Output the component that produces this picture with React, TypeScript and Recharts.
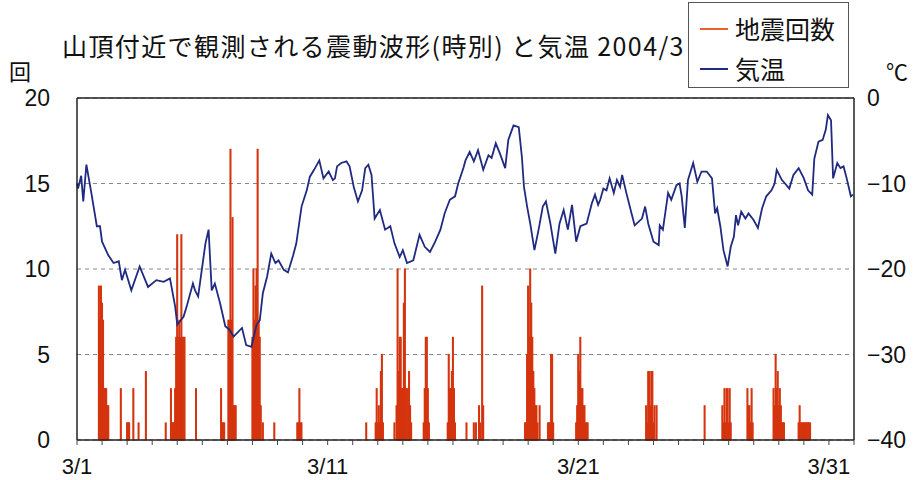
import React from 'react'
import {
  ComposedChart,
  Bar,
  Line,
  XAxis,
  YAxis,
  CartesianGrid,
  ReferenceLine,
} from 'recharts'

// hours since 3/1 00:00 (744 hours in March 2004)
const dayTicks = Array.from({ length: 32 }, (_, d) => d * 24)
const tickLabels: Record<number, string> = { 0: '3/1', 240: '3/11', 480: '3/21', 720: '3/31' }

// earthquake counts per hour (only hours with events)
const quakeHours = [
  21, 22, 23, 24, 25, 26, 27, 28, 29, 30,
  42, 48, 49, 50, 54, 59, 66, 85, 90, 91, 92, 93,
  94, 95, 96, 97, 98, 99, 100, 101, 102, 103,
  114, 138, 139, 140, 141,
  145, 146, 147, 148, 149, 150, 151, 152,
  168, 169, 170, 171, 172, 173, 174, 175, 176, 178, 189,
  211, 212, 213, 214, 215,
  277, 286, 287, 288, 289, 290, 291, 292, 293,
  304, 306, 307, 308, 309, 310, 311, 312, 313, 314, 315, 316, 317, 318, 319, 320,
  332, 333, 334, 335, 336, 337,
  355, 356, 357, 358, 359, 360, 361, 362,
  373, 380, 382, 385, 386, 388, 389,
  429, 430, 431, 432, 433, 434, 435, 436, 437, 438, 439, 440, 441, 443,
  451, 452, 453, 454, 455, 456,
  478, 479, 480, 481, 482, 483, 484, 485, 486, 487, 488, 489,
  545, 546, 547, 548, 549, 550, 551, 552, 553, 555,
  601,
  618, 619, 620, 621, 622, 623, 624, 625, 626,
  642, 643, 644, 645, 646, 647,
  667, 668, 669, 670, 671, 672, 673, 674, 675, 676, 677,
  691, 692, 693, 694, 695, 696, 697, 698, 699, 700, 701, 702,
]
const quakeCounts = [
  9, 7, 9, 8, 7, 3, 3, 3, 2, 2,
  3, 1, 1, 1, 3, 1, 4, 1, 3, 1, 1, 1,
  3, 6, 12, 6, 7, 6, 12, 6, 6, 6,
  3, 3, 1, 1, 1,
  7, 7, 17, 7, 13, 2, 2, 2,
  6, 10, 7, 9, 10, 17, 7, 6, 2, 1, 1,
  1, 1, 3, 1, 1,
  1, 1, 3, 1, 2, 1, 4, 5, 1,
  1, 2, 10, 4, 6, 6, 3, 3, 8, 10, 3, 3, 2, 4, 2, 1,
  1, 3, 6, 6, 3, 1,
  1, 5, 3, 3, 4, 6, 3, 1,
  1, 1, 1, 2, 1, 9, 2,
  1, 1, 5, 9, 6, 10, 8, 6, 4, 3, 2, 2, 1, 2,
  1, 1, 1, 5, 5, 1,
  1, 2, 5, 4, 6, 3, 3, 2, 2, 1, 1, 1,
  2, 1, 4, 4, 2, 4, 4, 1, 2, 2,
  2,
  2, 1, 3, 1, 3, 3, 1, 3, 1,
  3, 2, 2, 1, 3, 1,
  3, 2, 5, 3, 4, 2, 3, 2, 1, 1, 1,
  1, 2, 1, 1, 1, 1, 1, 1, 1, 1, 1, 1,
]

// air temperature (°C)
const tempHours = [
  0, 1, 4, 6, 9, 14, 19, 22, 24, 30, 35, 40, 43, 46, 52, 60, 68, 76, 83, 89,
  94, 96, 102, 105, 111, 113, 116, 123, 126, 129, 132, 137, 142, 146, 150, 158, 162, 167, 172, 175,
  178, 182, 186, 190, 193, 198, 202, 207, 210, 215, 220, 223, 227, 232, 236, 241, 245, 247, 249, 253,
  258, 261, 265, 269, 273, 276, 279, 282, 285, 290, 295, 300, 304, 309, 312, 316, 322, 328, 333, 338,
  343, 348, 352, 357, 362, 365, 370, 372, 376, 380, 384, 389, 394, 397, 401, 405, 410, 413, 418, 423,
  426, 428, 431, 434, 438, 442, 446, 449, 453, 458, 462, 466, 470, 474, 478, 482, 488, 493, 496, 499,
  501, 504, 507, 510, 514, 517, 520, 522, 526, 531, 534, 541, 544, 547, 552, 557, 558, 561, 566, 569,
  574, 577, 579, 582, 585, 590, 594, 598, 603, 608, 611, 613, 616, 619, 623, 626, 629, 631, 633, 636,
  640, 643, 648, 652, 656, 660, 665, 668, 670, 675, 678, 682, 686, 691, 696, 700, 704, 706, 710, 714,
  717, 719, 722, 724, 728, 731, 734, 737, 741, 743,
]
const tempValues = [
  -10.0, -10.6, -9.1, -12.1, -7.8, -11.3, -15.0, -15.0, -16.8, -18.4, -19.3, -19.1, -21.3, -20.1, -22.5, -19.7, -22.1, -21.3, -21.5, -21.1,
  -24.4, -26.5, -25.6, -24.4, -21.7, -22.5, -23.2, -17.0, -15.4, -22.5, -21.7, -24.0, -26.7, -27.1, -27.9, -26.9, -28.9, -29.1, -26.5, -26.0,
  -22.8, -20.9, -18.2, -19.3, -19.0, -20.1, -20.4, -18.4, -17.0, -12.7, -10.8, -9.2, -8.4, -7.3, -9.4, -8.6, -9.6, -9.4, -8.0, -7.6,
  -7.4, -8.0, -10.4, -12.1, -10.8, -8.2, -7.8, -9.0, -14.1, -13.1, -15.4, -15.0, -17.0, -18.6, -17.8, -19.3, -19.0, -16.0, -17.4, -18.0,
  -16.8, -15.4, -13.5, -11.9, -11.5, -10.0, -8.2, -7.3, -6.3, -7.4, -6.1, -8.4, -6.7, -7.0, -5.3, -6.5, -8.2, -4.9, -3.2, -3.4,
  -6.9, -10.4, -12.7, -14.7, -17.8, -15.4, -12.7, -12.1, -14.5, -18.2, -14.7, -13.1, -15.4, -12.5, -16.8, -15.0, -14.7, -12.3, -11.3, -12.5,
  -11.9, -10.6, -10.8, -9.4, -11.1, -9.6, -10.4, -9.0, -11.1, -13.5, -14.9, -14.1, -12.7, -14.7, -16.8, -17.2, -14.9, -15.4, -11.1, -11.9,
  -10.2, -10.0, -11.5, -15.2, -9.6, -7.6, -9.8, -8.6, -8.6, -9.4, -13.5, -12.9, -15.0, -17.8, -19.7, -17.4, -16.2, -13.7, -14.9, -13.3,
  -14.1, -13.5, -14.3, -15.2, -12.9, -11.5, -10.8, -10.0, -8.4, -9.6, -10.0, -10.6, -9.0, -8.2, -9.4, -10.8, -11.3, -7.1, -5.1, -4.9,
  -3.7, -2.0, -2.6, -9.4, -7.6, -8.2, -8.0, -9.4, -11.5, -11.3,
]

const countTicks = [0, 5, 10, 15, 20]
const tempTicks = [-40, -30, -20, -10, 0]

const rows = dayTicks.slice(0, 31).flatMap((d) =>
  Array.from({ length: 24 }, (_, i) => ({ h: d + i } as { h: number; quake?: number; temp?: number | null }))
)
rows.push({ h: 744 })
quakeHours.forEach((h, i) => {
  rows[h].quake = quakeCounts[i]
})
rows.forEach((r) => {
  r.temp = null
})
tempHours.forEach((h, i) => {
  rows[h].temp = tempValues[i]
})

const BAR_COLOR = '#d4340e'
const LINE_COLOR = '#1f2a80'
const FONT = '"Liberation Sans", Arial, sans-serif'
const JP_FONT = '"Noto Sans CJK JP", sans-serif'

export default function App() {
  return (
    <div style={{ position: 'absolute', left: 0, top: 0, width: 917, height: 480, background: '#fff', color: '#111' }}>
      <div style={{ position: 'absolute', left: 62, top: 28, fontSize: 25, letterSpacing: 1.4, fontFamily: JP_FONT, whiteSpace: 'nowrap', lineHeight: '34px' }}>
        山頂付近で観測される震動波形(時別) と気温 2004/3
      </div>
      <div style={{ position: 'absolute', left: 9, top: 56, fontSize: 22, fontFamily: JP_FONT, lineHeight: '28px' }}>回</div>
      <div style={{ position: 'absolute', left: 886, top: 56, fontSize: 22, fontFamily: JP_FONT, lineHeight: '28px' }}>℃</div>

      {/* legend box */}
      <div style={{ position: 'absolute', left: 688, top: 2, width: 159, height: 84, border: '1px solid #555', fontFamily: JP_FONT, fontSize: 25 }}>
        <div style={{ position: 'absolute', left: 11, top: 25, width: 28, height: 2, background: '#e8602a' }} />
        <div style={{ position: 'absolute', left: 46, top: 8, lineHeight: '34px' }}>地震回数</div>
        <div style={{ position: 'absolute', left: 11, top: 65, width: 28, height: 2, background: LINE_COLOR }} />
        <div style={{ position: 'absolute', left: 46, top: 48, lineHeight: '34px' }}>気温</div>
      </div>

      <ComposedChart
        width={917}
        height={480}
        data={rows}
        margin={{ top: 98, right: 0, bottom: 0, left: 0 }}
        style={{ position: 'absolute', left: 0, top: 0 }}
      >
        <CartesianGrid yAxisId="left" vertical={false} stroke="#888" strokeDasharray="4 4" />
        <XAxis
          dataKey="h"
          type="number"
          domain={[0, 744]}
          ticks={dayTicks}
          interval={0}
          height={40}
          tickSize={5}
          tickMargin={13}
          tickFormatter={(v: number) => tickLabels[v] ?? ''}
          tick={{ fill: '#111', fontSize: 22, fontFamily: FONT }}
          axisLine={{ stroke: '#222', strokeWidth: 1.5 }}
          tickLine={{ stroke: '#444' }}
        />
        <YAxis
          yAxisId="left"
          domain={[0, 20]}
          ticks={countTicks}
          width={77}
          tickLine={false}
          tickSize={0}
          tickMargin={27}
          tick={{ fill: '#111', fontSize: 23, fontFamily: FONT }}
          axisLine={{ stroke: '#222', strokeWidth: 1.5 }}
        />
        <YAxis
          yAxisId="right"
          orientation="right"
          domain={[-40, 0]}
          ticks={tempTicks}
          width={63}
          tickLine={false}
          tickSize={0}
          tickMargin={13}
          tickFormatter={(v: number) => (v < 0 ? '\u2212' + Math.abs(v) : String(v))}
          tick={{ fill: '#111', fontSize: 23, fontFamily: FONT }}
          axisLine={{ stroke: '#222', strokeWidth: 1.5 }}
        />
        <ReferenceLine yAxisId="left" y={20} stroke="#222" strokeWidth={1.5} />
        <Bar
          yAxisId="left"
          dataKey="quake"
          barSize={2}
          fill={BAR_COLOR}
          stroke={BAR_COLOR}
          strokeWidth={1.1}
          isAnimationActive={false}
        />
        <Line
          yAxisId="right"
          dataKey="temp"
          type="linear"
          stroke={LINE_COLOR}
          strokeWidth={1.8}
          dot={false}
          connectNulls
          isAnimationActive={false}
        />
      </ComposedChart>
    </div>
  )
}
